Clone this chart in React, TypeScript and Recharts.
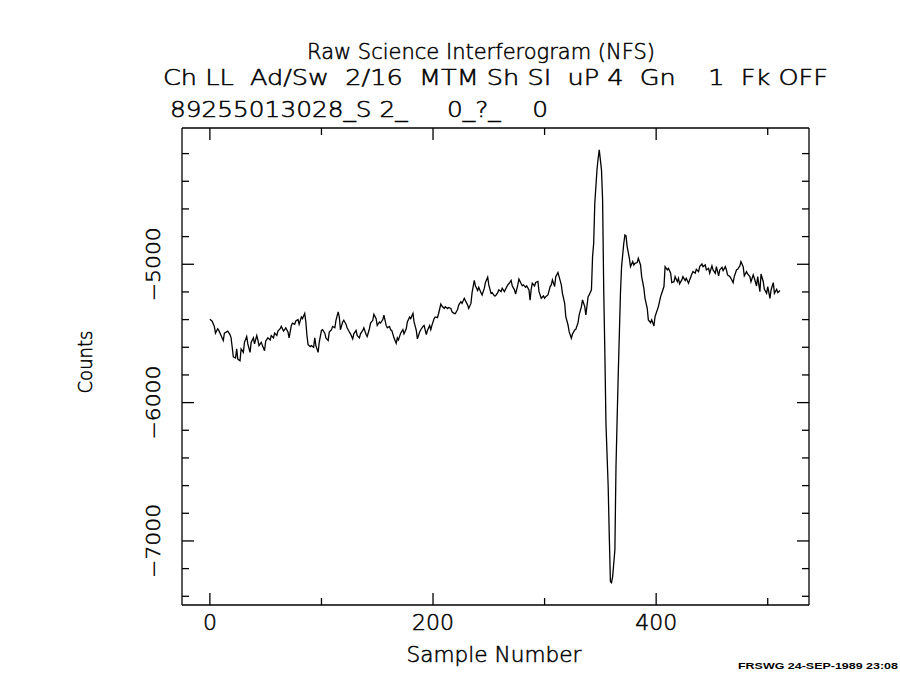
import React from 'react';
import { LineChart, Line, XAxis, YAxis } from 'recharts';

// sample numbers (not every sample, just the visible turning points)
const samples = [
  0, 2, 4, 5, 7, 8, 10, 12, 13, 16, 18, 19, 20, 21, 23, 24, 25, 27, 28, 30,
  31, 33, 34, 36, 37, 39, 40, 42, 43, 44, 46, 48, 49, 50, 52, 54, 55, 57, 58, 60,
  61, 63, 64, 66, 67, 68, 70, 71, 73, 74, 76, 77, 79, 80, 82, 83, 85, 86, 87, 88,
  90, 91, 93, 94, 95, 97, 98, 100, 101, 103, 104, 106, 107, 109, 110, 112, 113, 115, 116, 117,
  119, 120, 122, 123, 125, 126, 128, 129, 131, 132, 134, 135, 137, 138, 140, 141, 143, 144, 146, 147,
  149, 150, 152, 153, 155, 156, 158, 159, 161, 162, 163, 165, 167, 168, 169, 171, 173, 174, 176, 177,
  179, 180, 182, 183, 185, 186, 188, 189, 191, 192, 194, 195, 197, 198, 199, 201, 202, 204, 205, 207,
  208, 210, 211, 213, 214, 216, 217, 219, 220, 222, 223, 225, 226, 228, 229, 231, 232, 234, 235, 237,
  238, 240, 241, 243, 244, 246, 247, 249, 250, 252, 253, 255, 256, 258, 259, 261, 262, 264, 265, 267,
  268, 270, 271, 273, 274, 276, 277, 279, 280, 281, 283, 284, 286, 287, 288, 289, 291, 292, 294, 295,
  297, 299, 300, 301, 303, 305, 306, 307, 309, 310, 312, 313, 315, 316, 318, 319, 321, 322, 324, 325,
  327, 328, 330, 331, 333, 334, 336, 337, 339, 340, 342, 343, 344, 345, 347, 348, 349, 350, 351, 352,
  353, 354, 355, 357, 358, 359, 360, 361, 363, 364, 365, 366, 368, 369, 371, 372, 373, 374, 376, 377,
  379, 380, 381, 383, 384, 386, 387, 389, 390, 392, 393, 395, 396, 398, 399, 401, 402, 404, 405, 407,
  408, 410, 411, 413, 414, 416, 417, 419, 420, 421, 423, 424, 426, 427, 429, 430, 432, 433, 435, 436,
  438, 439, 441, 442, 444, 445, 447, 448, 450, 451, 453, 454, 456, 457, 459, 460, 462, 463, 464, 466,
  467, 469, 470, 472, 473, 475, 476, 478, 479, 481, 482, 484, 485, 487, 488, 490, 491, 493, 494, 496,
  497, 499, 500, 502, 503, 505, 506, 508, 509, 511,
];

const counts = [
  -5398, -5412, -5449, -5498, -5466, -5478, -5515, -5551, -5498, -5483, -5508, -5532, -5600, -5669, -5678, -5612, -5686, -5698, -5612, -5637,
  -5564, -5522, -5576, -5637, -5564, -5532, -5576, -5515, -5547, -5588, -5564, -5605, -5625, -5556, -5532, -5547, -5515, -5532, -5498, -5515,
  -5483, -5466, -5449, -5483, -5473, -5459, -5490, -5532, -5442, -5425, -5434, -5410, -5400, -5434, -5381, -5393, -5356, -5417, -5515, -5581,
  -5595, -5588, -5600, -5532, -5588, -5637, -5564, -5478, -5473, -5498, -5532, -5551, -5490, -5473, -5449, -5459, -5405, -5344, -5381, -5473,
  -5417, -5405, -5434, -5459, -5490, -5503, -5539, -5503, -5478, -5515, -5532, -5503, -5478, -5459, -5508, -5522, -5466, -5425, -5405, -5361,
  -5393, -5442, -5417, -5425, -5400, -5368, -5442, -5459, -5449, -5473, -5478, -5532, -5571, -5532, -5547, -5498, -5473, -5503, -5466, -5417,
  -5381, -5393, -5356, -5417, -5478, -5539, -5490, -5473, -5449, -5442, -5508, -5478, -5442, -5473, -5442, -5393, -5381, -5386, -5356, -5288,
  -5302, -5320, -5307, -5320, -5312, -5320, -5344, -5356, -5356, -5327, -5295, -5271, -5283, -5246, -5263, -5295, -5320, -5283, -5205, -5117,
  -5156, -5190, -5166, -5205, -5222, -5173, -5132, -5093, -5149, -5210, -5205, -5229, -5229, -5205, -5185, -5198, -5173, -5198, -5180, -5149,
  -5141, -5117, -5156, -5185, -5215, -5149, -5107, -5141, -5156, -5149, -5166, -5156, -5185, -5259, -5180, -5137, -5156, -5132, -5124, -5198,
  -5246, -5229, -5246, -5234, -5222, -5161, -5149, -5113, -5161, -5089, -5060, -5089, -5149, -5210, -5282, -5378, -5439, -5487, -5535, -5504,
  -5475, -5470, -5422, -5366, -5306, -5258, -5306, -5366, -5234, -5222, -5185, -4945, -4848, -4559, -4313, -4234, -4173, -4245, -4318, -4535,
  -5185, -5631, -6150, -6607, -6969, -7294, -7302, -7258, -7065, -6463, -6125, -5800, -5210, -5017, -4848, -4788, -4795, -4872, -4957, -5017,
  -4981, -5005, -4993, -4988, -4957, -5005, -5089, -5174, -5246, -5318, -5402, -5422, -5402, -5446, -5378, -5330, -5306, -5234, -5210, -5161,
  -5017, -5041, -5029, -5065, -5133, -5126, -5089, -5126, -5101, -5142, -5113, -5089, -5118, -5101, -5137, -5113, -5070, -5053, -5065, -5036,
  -5053, -5017, -4998, -5017, -5005, -5041, -5029, -5065, -5012, -5041, -5065, -5017, -5084, -5041, -5022, -5046, -5017, -5041, -5077, -5089,
  -5101, -5133, -5089, -5041, -5036, -5012, -4981, -5017, -5084, -5053, -5070, -5089, -5126, -5077, -5101, -5157, -5089, -5198, -5070, -5126,
  -5181, -5210, -5161, -5246, -5186, -5133, -5210, -5181, -5205, -5190,
];

const xTicks = [0, 100, 200, 300, 400, 500];
const yTicks = [
  -7400, -7200, -7000, -6800, -6600, -6400, -6200, -6000, -5800,
  -5600, -5400, -5200, -5000, -4800, -4600, -4400, -4200,
];

const data = samples.map((s, i) => ({ x: s, y: counts[i] }));

// thin face plus a hairline stroke, to get close to the plotter-style lettering
const FONT = 'DejaVu Sans';
const WEIGHT = 200;
const INK = '#000';
const AX = 30; // room reserved for each axis; the box itself sits at 182..809 x 128..605

const txt = { fontFamily: FONT, fontWeight: WEIGHT, fontSize: 21, fill: INK, stroke: INK, strokeWidth: 0.5 };

const fmt = (v: number) => (v < 0 ? '\u2212' + Math.abs(v) : String(v));

// ticks point into the box; only the long ones get a label
const BottomTick = (props: any) => {
  const { x, y, payload } = props;
  const major = payload.value % 200 === 0;
  const label = fmt(payload.value);
  return (
    <g>
      <line x1={x} y1={y} x2={x} y2={y - (major ? 12 : 7)} stroke={INK} strokeWidth={1.3} />
      {major && (
        <text x={x} y={y + 25} textAnchor="middle" {...txt}
          textLength={label.length * 14} lengthAdjust="spacingAndGlyphs">
          {label}
        </text>
      )}
    </g>
  );
};

const TopTick = (props: any) => {
  const { x, y, payload } = props;
  const major = payload.value % 200 === 0;
  return <line x1={x} y1={y} x2={x} y2={y + (major ? 12 : 7)} stroke={INK} strokeWidth={1.3} />;
};

const LeftTick = (props: any) => {
  const { x, y, payload } = props;
  const major = payload.value % 1000 === 0;
  const lx = x - 29;
  return (
    <g>
      <line x1={x} y1={y} x2={x + (major ? 12 : 7)} y2={y} stroke={INK} strokeWidth={1.3} />
      {major && (
        <text x={lx} y={y} transform={`rotate(-90, ${lx}, ${y})`} textAnchor="middle"
          dominantBaseline="central" {...txt} fontSize={19}
          textLength={74} lengthAdjust="spacingAndGlyphs">
          {fmt(payload.value)}
        </text>
      )}
    </g>
  );
};

const RightTick = (props: any) => {
  const { x, y, payload } = props;
  const major = payload.value % 1000 === 0;
  return <line x1={x} y1={y} x2={x - (major ? 12 : 7)} y2={y} stroke={INK} strokeWidth={1.3} />;
};

const App: React.FC = () => {
  const axisLine = { stroke: INK, strokeWidth: 1.3 };
  return (
    <div style={{ position: 'absolute', left: 0, top: 0, width: 900, height: 674, background: '#fff' }}>
      <LineChart width={900} height={674} data={data}
        margin={{ top: 128 - AX, right: 91 - AX, bottom: 69 - AX, left: 182 - AX }}>
        <XAxis xAxisId="b" dataKey="x" type="number" domain={[-25, 537]} ticks={xTicks}
          allowDataOverflow interval={0} height={AX} tickSize={0} tickMargin={0}
          axisLine={axisLine} tickLine={false} tick={<BottomTick />} />
        <XAxis xAxisId="t" orientation="top" dataKey="x" type="number" domain={[-25, 537]}
          ticks={xTicks} allowDataOverflow interval={0} height={AX} tickSize={0} tickMargin={0}
          axisLine={axisLine} tickLine={false} tick={<TopTick />} />
        <YAxis yAxisId="l" type="number" domain={[-7463, -4015]} ticks={yTicks}
          allowDataOverflow interval={0} width={AX} tickSize={0} tickMargin={0}
          axisLine={axisLine} tickLine={false} tick={<LeftTick />} />
        <YAxis yAxisId="r" orientation="right" type="number" domain={[-7463, -4015]} ticks={yTicks}
          allowDataOverflow interval={0} width={AX} tickSize={0} tickMargin={0}
          axisLine={axisLine} tickLine={false} tick={<RightTick />} />
        <Line xAxisId="b" yAxisId="l" dataKey="y" type="linear" stroke={INK} strokeWidth={1.3}
          dot={false} isAnimationActive={false} />

        {/* header lines */}
        <text x={307} y={59} {...txt} textLength={348} lengthAdjust="spacingAndGlyphs">
          Raw Science Interferogram (NFS)
        </text>
        <text x={163} y={85} {...txt} style={{ whiteSpace: 'pre' }}
          textLength={665} lengthAdjust="spacingAndGlyphs">
          {'Ch LL  Ad/Sw  2/16  MTM Sh SI  uP 4  Gn    1  Fk OFF'}
        </text>
        <text x={170} y={117} {...txt} style={{ whiteSpace: 'pre' }}
          textLength={378} lengthAdjust="spacingAndGlyphs">
          {'89255013028_S 2_     0_?_    0'}
        </text>

        {/* axis titles */}
        <text x={494} y={662} textAnchor="middle" {...txt}
          textLength={175} lengthAdjust="spacingAndGlyphs">
          Sample Number
        </text>
        <text x={85} y={362} transform="rotate(-90, 85, 362)" textAnchor="middle"
          dominantBaseline="central" {...txt} fontSize={19}
          textLength={63} lengthAdjust="spacingAndGlyphs">
          Counts
        </text>

        <text x={738} y={669} fontFamily="Liberation Sans" fontSize={9} fontWeight="bold" fill={INK}
          textLength={160} lengthAdjust="spacingAndGlyphs">
          FRSWG 24-SEP-1989 23:08
        </text>
      </LineChart>
    </div>
  );
};

export default App;
